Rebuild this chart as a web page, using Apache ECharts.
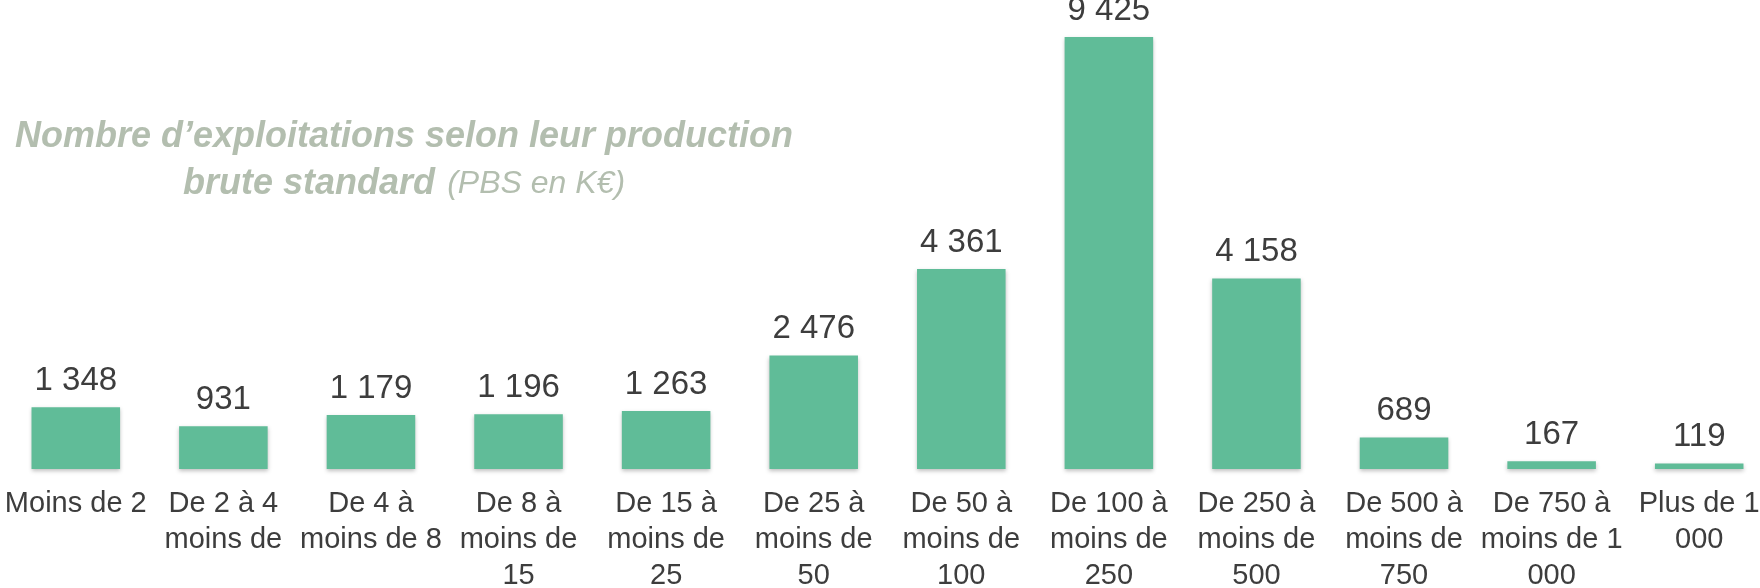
<!DOCTYPE html>
<html>
<head>
<meta charset="utf-8">
<script src="https://cdn.jsdelivr.net/npm/echarts@6/dist/echarts.min.js"></script>
<style>
  html, body { margin: 0; padding: 0; background: #fff; }
  #chart { width: 1760px; height: 588px; }
</style>
</head>
<body>
<div id="chart"></div>
<script>
  const categories = [
    'Moins de 2',
    'De 2 à 4\nmoins de',
    'De 4 à\nmoins de 8',
    'De 8 à\nmoins de\n15',
    'De 15 à\nmoins de\n25',
    'De 25 à\nmoins de\n50',
    'De 50 à\nmoins de\n100',
    'De 100 à\nmoins de\n250',
    'De 250 à\nmoins de\n500',
    'De 500 à\nmoins de\n750',
    'De 750 à\nmoins de 1\n000',
    'Plus de 1\n000'
  ];
  const exploitations = [1348, 931, 1179, 1196, 1263, 2476, 4361, 9425, 4158, 689, 167, 119];

  const titleColor = '#b3beaf';
  const textColor = '#3d3d3d';
  const font = '"Liberation Sans", Arial, Helvetica, sans-serif';

  const chart = echarts.init(document.getElementById('chart'));

  // espace comme séparateur de milliers
  const fmt = v => String(v).replace(/\B(?=(\d{3})+(?!\d))/g, ' ');

  chart.setOption({
    animation: false,
    grid: {
      left: 2,
      width: 1771,
      top: 10.6,
      bottom: 119,
      containLabel: false,
      outerBoundsMode: 'none'
    },
    xAxis: {
      type: 'category',
      data: categories,
      axisLine: { show: false },
      axisTick: { show: false },
      axisLabel: {
        interval: 0,
        margin: 17,
        color: textColor,
        fontFamily: font,
        fontSize: 29,
        lineHeight: 36
      }
    },
    yAxis: {
      type: 'value',
      min: 0,
      max: 10000,
      show: false
    },
    graphic: [{
      type: 'text',
      x: 404,
      y: 114,
      style: {
        text: '{b|Nombre d\u2019exploitations selon leur production}\n{b|brute standard} {n| (PBS en K€)}',
        align: 'center',
        verticalAlign: 'top',
        fill: titleColor,
        rich: {
          b: {
            fontFamily: font,
            fontSize: 36,
            fontWeight: 'bold',
            fontStyle: 'italic',
            fill: titleColor,
            lineHeight: 47
          },
          n: {
            fontFamily: font,
            fontSize: 32,
            fontStyle: 'italic',
            fill: titleColor,
            lineHeight: 47
          }
        }
      }
    }],
    series: [{
      type: 'bar',
      data: exploitations,
      barCategoryGap: '40%',
      itemStyle: {
        color: '#60bc98',
        shadowColor: 'rgba(0,0,0,0.25)',
        shadowBlur: 4,
        shadowOffsetY: 2
      },
      label: {
        show: true,
        position: 'top',
        distance: 10,
        color: textColor,
        fontFamily: font,
        fontSize: 33,
        formatter: p => fmt(p.value)
      }
    }]
  });
</script>
</body>
</html>
